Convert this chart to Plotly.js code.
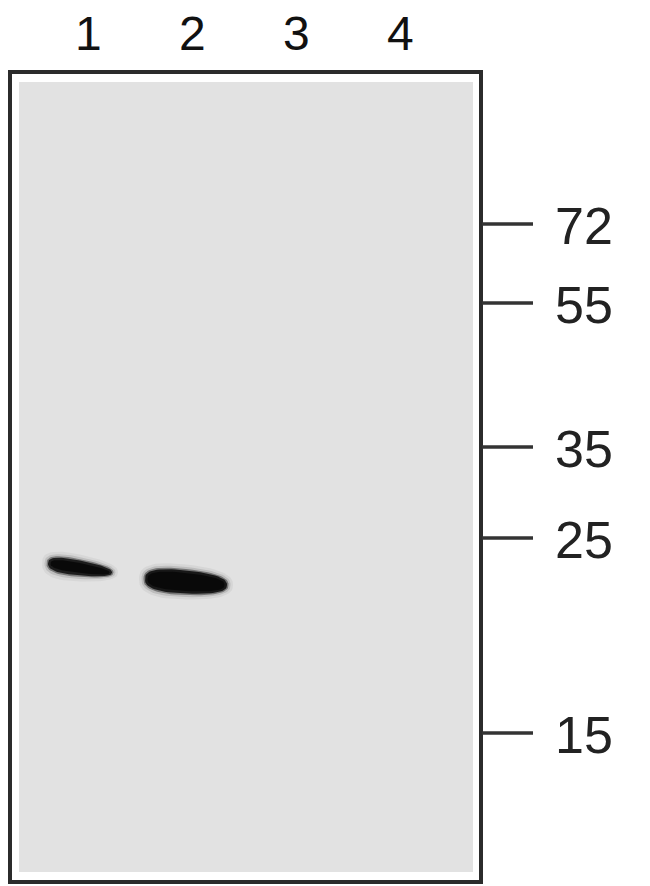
<!DOCTYPE html>
<html>
<head>
<meta charset="utf-8">
<script src="https://cdn.plot.ly/plotly-3.0.1.min.js"></script>
<style>
html, body { margin: 0; padding: 0; background: #fff; }
#blot { width: 650px; height: 886px; }
</style>
</head>
<body>
<div id="blot"></div>
<script>
// lanes across the top
let laneNumbers = [1, 2, 3, 4];
let laneLabels = ['1', '2', '3', '4'];

// molecular weight ladder (kDa) and how far each ran down the gel
let markerLabels = ['72', '55', '35', '25', '15'];
let markerMigration = [224, 303, 447, 538, 733];

// bands that showed up
let bandLane = [1, 2];
let bandMigration = [568, 582];
let bandDarkness = [0.95, 1.0];

// ---- page geometry (image pixels) ----
const W = 650, H = 886;
const LANE1_PX = 88, LANE_STEP = 104;
function laneToPx(l) { return LANE1_PX + (l - 1) * LANE_STEP; }
function pxToLane(p) { return 1 + (p - LANE1_PX) / LANE_STEP; }
function px(x) { return x / W; }
function py(y) { return 1 - y / H; }

// how each band looks (offset from lane centre, half-length, half-thickness, taper, tilt, squareness)
let bandLook = [
    { dx: -8, a: 32, b: 7.4, taper: 0.25, tilt: 9, n: 2.6 },
    { dx: -6, a: 41, b: 11.5, taper: 0.12, tilt: 6, n: 2.6 }
];

function bandOutline(i, grow) {
    let look = bandLook[i];
    let cx = laneToPx(bandLane[i]) + look.dx;
    let cy = bandMigration[i];
    let xs = [], ys = [];
    for (let k = 0; k <= 72; k++) {
        let th = 2 * Math.PI * k / 72;
        let c = Math.cos(th), s = Math.sin(th);
        let ex = Math.sign(c) * Math.pow(Math.abs(c), 2 / look.n);
        let ey = Math.sign(s) * Math.pow(Math.abs(s), 2 / look.n);
        let u = (look.a + grow) * ex;
        let half = (look.b + grow) * (1 - look.taper * ex);
        xs.push(pxToLane(cx + u));
        ys.push(cy + look.tilt * ex / 2 + half * ey);
    }
    return { x: xs, y: ys };
}

let data = [];
let blur = [
    { grow: 6, alpha: 0.05 },
    { grow: 3.5, alpha: 0.12 },
    { grow: 1.5, alpha: 0.4 },
    { grow: 0, alpha: 0.85 },
    { grow: -2.5, alpha: 0.95 }
];
for (let i = 0; i < bandLane.length; i++) {
    blur.forEach(function (layer) {
        let o = bandOutline(i, layer.grow);
        data.push({
            x: o.x,
            y: o.y,
            mode: 'lines',
            fill: 'toself',
            line: { width: 0 },
            fillcolor: 'rgba(8,8,8,' + (layer.alpha * bandDarkness[i]).toFixed(3) + ')',
            hoverinfo: 'skip',
            showlegend: false
        });
    });
}

let shapes = [
    // gel background
    { type: 'rect', xref: 'paper', yref: 'paper', layer: 'below',
      x0: px(19), x1: px(473), y0: py(872), y1: py(82),
      fillcolor: '#e2e2e2', line: { width: 0 } },
    // frame
    { type: 'rect', xref: 'paper', yref: 'paper',
      x0: px(10), x1: px(481), y0: py(882), y1: py(72),
      fillcolor: 'rgba(0,0,0,0)', line: { color: '#2b2b2b', width: 4 } }
];

let annotations = [];

markerMigration.forEach(function (m, i) {
    shapes.push({
        type: 'line', xref: 'paper', yref: 'y',
        x0: px(482), x1: px(533), y0: m, y1: m,
        line: { color: '#333', width: 3.5 }
    });
    annotations.push({
        xref: 'paper', yref: 'y',
        x: px(553), y: m + 2,
        xanchor: 'left', yanchor: 'middle',
        text: markerLabels[i],
        showarrow: false,
        font: { family: 'Liberation Sans Narrow, Liberation Sans, Arial', size: 52, color: '#222' }
    });
});

laneNumbers.forEach(function (l, i) {
    annotations.push({
        xref: 'x', yref: 'paper',
        x: l, y: py(33),
        xanchor: 'center', yanchor: 'middle',
        text: laneLabels[i],
        showarrow: false,
        font: { family: 'Liberation Sans Narrow, Liberation Sans, Arial', size: 48, color: '#111' }
    });
});

let layout = {
    width: W,
    height: H,
    margin: { l: 0, r: 0, t: 0, b: 0 },
    paper_bgcolor: '#fff',
    plot_bgcolor: 'rgba(0,0,0,0)',
    xaxis: { range: [pxToLane(0), pxToLane(W)], visible: false, fixedrange: true },
    yaxis: { range: [H, 0], visible: false, fixedrange: true },
    shapes: shapes,
    annotations: annotations,
    showlegend: false
};

Plotly.newPlot('blot', data, layout, { staticPlot: true, displayModeBar: false });
</script>
</body>
</html>
